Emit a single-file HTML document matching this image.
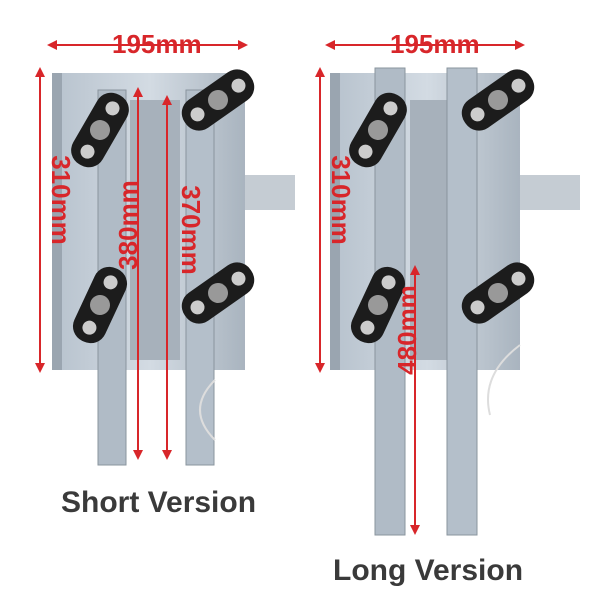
<!DOCTYPE html>
<html><head><style>
body{margin:0;width:600px;height:600px;background:#fff;overflow:hidden;position:relative;font-family:"Liberation Sans",sans-serif}
.r{position:absolute;color:#d8262a;font-weight:bold;font-size:26px;white-space:nowrap;line-height:26px}
.t{position:absolute;color:#3a3a3a;font-weight:bold;font-size:30px;white-space:nowrap}
</style></head><body>
<svg width="600" height="600" style="position:absolute;left:0;top:0">
<defs>
<linearGradient id="m" x1="0" x2="1"><stop offset="0" stop-color="#b8c3ce"/><stop offset="0.5" stop-color="#d3dbe3"/><stop offset="1" stop-color="#a9b4bf"/></linearGradient>
<marker id="a" viewBox="0 0 10 10" refX="5" refY="5" markerWidth="5" markerHeight="5" orient="auto-start-reverse"><path d="M0 0L10 5L0 10z" fill="#d8262a"/></marker>
<g id="cam"><rect x="-17" y="-40" width="34" height="80" rx="16" fill="#1c1c1c"/><circle cx="0" cy="-25" r="7" fill="#ccc"/><circle cx="0" cy="0" r="10" fill="#999"/><circle cx="0" cy="25" r="7" fill="#ccc"/></g>
</defs>
<rect x="55" y="73" width="190" height="297" fill="url(#m)"/>
<rect x="52" y="73" width="10" height="297" fill="#9aa5b0"/>
<rect x="130" y="100" width="50" height="260" fill="#a7b1bb"/>
<rect x="98" y="90" width="28" height="375" fill="#b0bbc6" stroke="#8a949e"/>
<rect x="186" y="90" width="28" height="375" fill="#b4bfca" stroke="#8a949e"/>
<rect x="245" y="175" width="50" height="35" fill="#c5ccd3"/>
<use href="#cam" transform="translate(100,130) rotate(30)"/>
<use href="#cam" transform="translate(218,100) rotate(55)"/>
<use href="#cam" transform="translate(100,305) rotate(25)"/>
<use href="#cam" transform="translate(218,293) rotate(55)"/>
<path d="M215 380 q-30 30 0 60" fill="none" stroke="#ddd" stroke-width="2"/>
<rect x="335" y="73" width="185" height="297" fill="url(#m)"/>
<rect x="330" y="73" width="10" height="297" fill="#9aa5b0"/>
<rect x="410" y="100" width="40" height="260" fill="#a7b1bb"/>
<rect x="375" y="68" width="30" height="467" fill="#b0bbc6" stroke="#8a949e"/>
<rect x="447" y="68" width="30" height="467" fill="#b4bfca" stroke="#8a949e"/>
<rect x="520" y="175" width="60" height="35" fill="#c5ccd3"/>
<use href="#cam" transform="translate(378,130) rotate(30)"/>
<use href="#cam" transform="translate(498,100) rotate(55)"/>
<use href="#cam" transform="translate(378,305) rotate(25)"/>
<use href="#cam" transform="translate(498,293) rotate(55)"/>
<path d="M520 345 q-40 30 -30 70" fill="none" stroke="#ddd" stroke-width="2"/>
<g stroke="#d8262a" stroke-width="2" marker-start="url(#a)" marker-end="url(#a)">
<line x1="52" y1="45" x2="243" y2="45"/>
<line x1="40" y1="72" x2="40" y2="368"/>
<line x1="138" y1="92" x2="138" y2="455"/>
<line x1="167" y1="100" x2="167" y2="455"/>
<line x1="330" y1="45" x2="520" y2="45"/>
<line x1="320" y1="72" x2="320" y2="368"/>
<line x1="415" y1="270" x2="415" y2="530"/>
</g>
</svg>
<div class="r" style="left:112px;top:31px">195mm</div>
<div class="r" style="left:390px;top:31px">195mm</div>
<div class="r" style="left:16px;top:187px;transform:rotate(90deg)">310mm</div>
<div class="r" style="left:296px;top:187px;transform:rotate(90deg)">310mm</div>
<div class="r" style="left:83px;top:212px;transform:rotate(-90deg)">380mm</div>
<div class="r" style="left:146px;top:217px;transform:rotate(90deg)">370mm</div>
<div class="r" style="left:362px;top:317px;transform:rotate(-90deg)">480mm</div>
<div class="t" style="left:61px;top:486px">Short Version</div>
<div class="t" style="left:333px;top:554px">Long Version</div>
</body></html>
